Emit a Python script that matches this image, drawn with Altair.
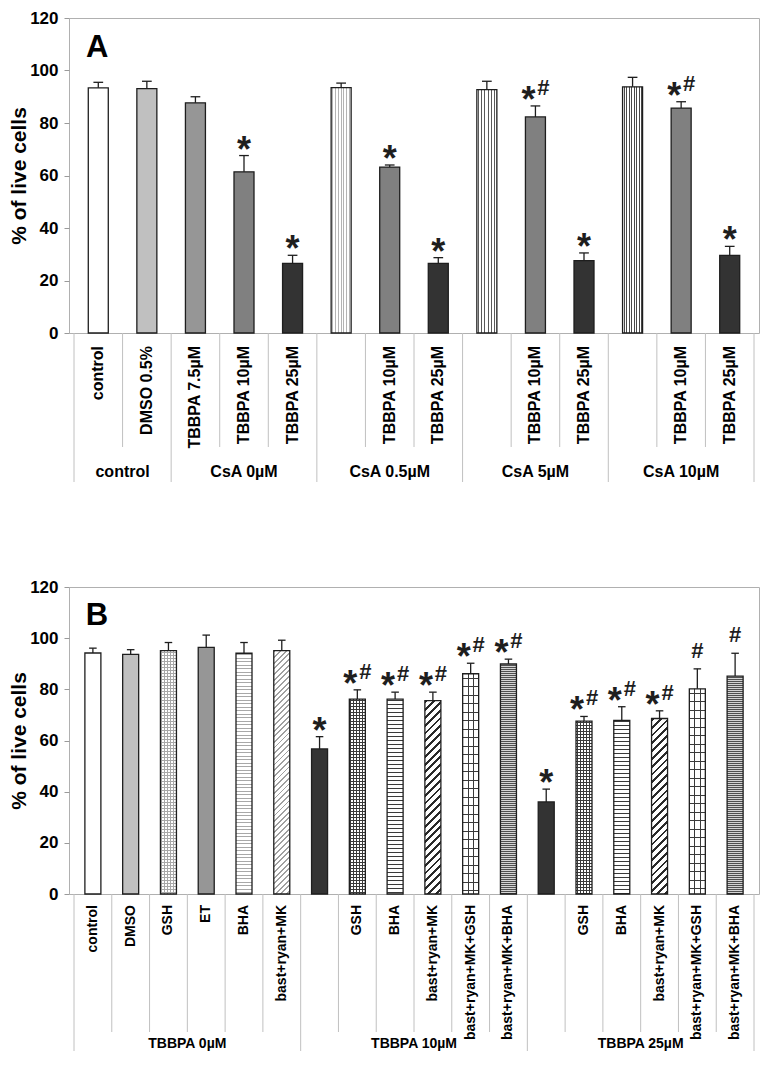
import math
import altair as alt
import pandas as pd

FONT = "Liberation Sans"

# ---------------- Panel A data ----------------
a_group = ["control", "control", "CsA 0µM", "CsA 0µM", "CsA 0µM",
           "CsA 0.5µM", "CsA 0.5µM", "CsA 0.5µM", "CsA 5µM", "CsA 5µM", "CsA 5µM",
           "CsA 10µM", "CsA 10µM", "CsA 10µM"]
a_label = ["control", "DMSO 0.5%", "TBBPA 7.5µM", "TBBPA 10µM", "TBBPA 25µM",
           "", "TBBPA 10µM", "TBBPA 25µM", "", "TBBPA 10µM", "TBBPA 25µM",
           "", "TBBPA 10µM", "TBBPA 25µM"]
a_mean = [93.4, 93.1, 87.7, 61.4, 26.5, 93.5, 63.2, 26.5, 92.7, 82.3, 27.6, 93.8, 85.7, 29.6]
a_err = [2.1, 2.8, 2.3, 6.2, 3.1, 1.7, 0.8, 2.2, 3.2, 4.2, 2.9, 3.6, 2.4, 3.4]
a_sig = ["", "", "", "*", "*", "", "*", "*", "", "*#", "*", "", "*#", "*"]
a_pattern = ["white", "lgray", "mgray", "gray", "dark", "v_light", "gray", "dark",
             "v_mid", "gray", "dark", "v_dense", "gray", "dark"]

# ---------------- Panel B data ----------------
b_group = ["TBBPA 0µM"] * 6 + ["TBBPA 10µM"] * 6 + ["TBBPA 25µM"] * 6
b_label = ["control", "DMSO", "GSH", "ET", "BHA", "bast+ryan+MK",
           "", "GSH", "BHA", "bast+ryan+MK", "bast+ryan+MK+GSH", "bast+ryan+MK+BHA",
           "", "GSH", "BHA", "bast+ryan+MK", "bast+ryan+MK+GSH", "bast+ryan+MK+BHA"]
b_mean = [94.2, 93.7, 95.1, 96.4, 94.1, 95.1, 56.7, 76.2, 76.2, 75.6, 86.1, 89.9,
          36.0, 67.6, 67.9, 68.6, 80.2, 85.2]
b_err = [1.9, 1.8, 3.2, 4.8, 4.2, 4.1, 4.8, 3.6, 2.7, 3.3, 4.1, 1.9,
         5.0, 1.8, 5.3, 3.0, 7.8, 8.9]
b_sig = ["", "", "", "", "", "", "*", "*#", "*#", "*#", "*#", "*#",
         "*", "*#", "*#", "*#", "#", "#"]
b_pattern = ["white", "lgray", "grid_light", "mgray", "h_light", "diag_light",
             "dark", "grid_dark", "h_dark", "diag_dark", "grid_large", "h_dense",
             "dark", "grid_dark", "h_dark", "diag_dark", "grid_large", "h_dense"]

y_ticks = [0, 20, 40, 60, 80, 100, 120]
Y_MAX = 120
Y_TITLE = "% of live cells"

CLEAR = "rgba(255,255,255,0)"


def stripe_stops(length, period, thick, color, bg, phase=0.0):
    stops = [{"offset": 0, "color": bg}]
    p = phase
    while p < length:
        a = round(max(p / length, 0), 5)
        b = round(min((p + thick) / length, 1), 5)
        stops += [{"offset": a, "color": bg}, {"offset": a, "color": color},
                  {"offset": b, "color": color}, {"offset": b, "color": bg}]
        p += period
    stops.append({"offset": 1, "color": bg})
    return stops


def vert(w, period, thick, color, bg="white", phase=1.0):
    return {"gradient": "linear", "x1": 0, "y1": 0, "x2": 1, "y2": 0,
            "stops": stripe_stops(w, period, thick, color, bg, phase)}


def horiz(h, period, thick, color, bg="white", phase=1.0):
    return {"gradient": "linear", "x1": 0, "y1": 0, "x2": 0, "y2": 1,
            "stops": stripe_stops(h, period, thick, color, bg, phase)}


def diag(w, h, period, thick, color, bg="white"):
    k = (w + h) / (w * w + h * h)
    s = math.sqrt(2)
    return {"gradient": "linear", "x1": 0, "y1": 0, "x2": round(k * w, 6), "y2": round(k * h, 6),
            "stops": stripe_stops(w + h, period * s, thick * s, color, bg, 0.5)}


def fills(name, w, h):
    if name == "white":
        return ["white"]
    if name == "lgray":
        return ["#c0c0c0"]
    if name == "mgray":
        return ["#969696"]
    if name == "gray":
        return ["#808080"]
    if name == "dark":
        return ["#333333"]
    if name == "v_light":
        return [vert(w, 2.8, 1, "#b4b4b4")]
    if name == "v_mid":
        return [vert(w, 3.3, 1, "#5a5a5a")]
    if name == "v_dense":
        return [vert(w, 2.5, 1, "#4a4a4a")]
    if name == "grid_light":
        return [vert(w, 3, 1, "#a8a8a8"), horiz(h, 3, 1, "#a8a8a8", CLEAR)]
    if name == "grid_dark":
        return [vert(w, 3, 1, "#3a3a3a"), horiz(h, 3, 1, "#3a3a3a", CLEAR)]
    if name == "grid_large":
        return [vert(w, 5.33, 1, "#3a3a3a", "white", 5.0), horiz(h, 8.5, 1, "#3a3a3a", CLEAR, 4.0)]
    if name == "h_light":
        return [horiz(h, 3.5, 1, "#a8a8a8")]
    if name == "h_dark":
        return [horiz(h, 4, 1, "#3a3a3a")]
    if name == "h_dense":
        return [horiz(h, 2, 1, "#505050", "#d4d4d4")]
    if name == "diag_light":
        return [diag(w, h, 4, 1.3, "#a0a0a0")]
    if name == "diag_dark":
        return [diag(w, h, 5.5, 2.0, "#2a2a2a")]
    return ["white"]


def panel(groups, labels, means, errs, sigs, patterns, W, H, bw,
          lab_font, lab_off, inner_len, group_len, group_off, group_font,
          letter, letter_y, letter_dx):
    n = len(labels)
    pxu = H / Y_MAX
    xs = alt.Scale(domain=[0, n], nice=False, zero=False)
    ys = alt.Scale(domain=[0, Y_MAX], nice=False)
    yaxis = alt.Axis(values=y_ticks, title=Y_TITLE, titlePadding=0, labelPadding=6, tickSize=5)
    df = pd.DataFrame({
        "idx": list(range(n)),
        "pos": [i + 0.5 for i in range(n)],
        "mean": means,
        "top": [m + e for m, e in zip(means, errs)],
        "lo": [i + 0.4 for i in range(n)],
        "hi": [i + 0.6 for i in range(n)],
        "label": labels,
        "sig": sigs,
    })
    bnds, longs = [], []
    for i in range(n + 1):
        is_long = i == 0 or i == n or groups[i] != groups[i - 1]
        bnds.append(i)
        longs.append(is_long)
    bdf = pd.DataFrame({"bpos": bnds, "long": longs})
    gnames, gstart, gend = [], [], []
    for i, g in enumerate(groups):
        if not gnames or gnames[-1] != g:
            gnames.append(g)
            gstart.append(i)
            gend.append(i + 1)
        else:
            gend[-1] = i + 1
    gdf = pd.DataFrame({"group": gnames, "gpos": [(s + e) / 2 for s, e in zip(gstart, gend)]})

    def Y(field):
        return alt.Y(field, scale=ys, axis=yaxis)

    X = alt.X("pos:Q", scale=xs, axis=None)
    layers = []
    for i in range(n):
        for f in fills(patterns[i], bw, means[i] * pxu):
            layers.append(
                alt.Chart(df).transform_filter(f"datum.idx == {i}")
                .mark_bar(size=bw, fill=f, strokeWidth=0)
                .encode(x=X, y=Y("mean:Q"))
            )
    layers.append(
        alt.Chart(df).mark_bar(size=bw, fill="transparent", stroke="#1e1e1e", strokeWidth=1.3)
        .encode(x=X, y=Y("mean:Q"))
    )
    layers.append(
        alt.Chart(df).mark_rule(color="#1e1e1e", strokeWidth=1.3)
        .encode(x=X, y=Y("mean:Q"), y2="top:Q")
    )
    layers.append(
        alt.Chart(df).mark_rule(color="#1e1e1e", strokeWidth=1.3)
        .encode(x=alt.X("lo:Q", scale=xs, axis=None), x2="hi:Q", y=Y("top:Q"))
    )
    star_kw = dict(fontSize=36, fontWeight="bold", font=FONT, baseline="alphabetic",
                   align="center", color="#1e1e1e")
    hash_kw = dict(fontSize=22, fontWeight="bold", font=FONT, baseline="alphabetic",
                   align="center", color="#1e1e1e")
    layers.append(alt.Chart(df).transform_filter("datum.sig == '*'")
                  .mark_text(text="*", dy=6, **star_kw).encode(x=X, y=Y("top:Q")))
    layers.append(alt.Chart(df).transform_filter("datum.sig == '*#'")
                  .mark_text(text="*", dy=6, dx=-7, **star_kw).encode(x=X, y=Y("top:Q")))
    layers.append(alt.Chart(df).transform_filter("datum.sig == '*#'")
                  .mark_text(text="#", dy=-11, dx=8, **hash_kw).encode(x=X, y=Y("top:Q")))
    layers.append(alt.Chart(df).transform_filter("datum.sig == '#'")
                  .mark_text(text="#", dy=-11, **hash_kw).encode(x=X, y=Y("top:Q")))
    layers.append(
        alt.Chart(df).mark_text(angle=270, align="right", baseline="middle", fontSize=lab_font,
                                fontWeight="bold", font=FONT, color="black")
        .encode(x=X, y=alt.value(H + lab_off), text="label:N")
    )
    BX = alt.X("bpos:Q", scale=xs, axis=None)
    layers.append(
        alt.Chart(bdf).transform_filter("!datum.long")
        .mark_rule(color="#c0c0c0", strokeWidth=1)
        .encode(x=BX, y=alt.value(H), y2=alt.value(H + inner_len))
    )
    layers.append(
        alt.Chart(bdf).transform_filter("datum.long")
        .mark_rule(color="#c0c0c0", strokeWidth=1)
        .encode(x=BX, y=alt.value(H), y2=alt.value(H + group_len))
    )
    layers.append(
        alt.Chart(gdf).mark_text(align="center", baseline="middle", fontSize=group_font,
                                 fontWeight="bold", font=FONT, color="black")
        .encode(x=alt.X("gpos:Q", scale=xs, axis=None), y=alt.value(H + group_off), text="group:N")
    )
    ldf = pd.DataFrame({"pos": [0.5], "ly": [letter_y]})
    layers.append(
        alt.Chart(ldf).mark_text(text=letter, fontSize=31, fontWeight="bold", font=FONT,
                                 align="center", baseline="alphabetic", dx=letter_dx, color="black")
        .encode(x=X, y=Y("ly:Q"))
    )
    return alt.layer(*layers).properties(width=W, height=H)


chart_a = panel(a_group, a_label, a_mean, a_err, a_sig, a_pattern, 690, 315, 20,
                16, 13, 114, 149, 139, 16, "A", 105.0, -1)
chart_b = panel(b_group, b_label, b_mean, b_err, b_sig, b_pattern, 690, 307, 16,
                14, 11, 138, 157, 150, 14, "B", 105.1, 4)

chart = (
    alt.vconcat(chart_a, chart_b, spacing=94)
    .properties(padding={"left": 0, "top": 0, "right": 0, "bottom": 0}, background="white")
    .configure_view(stroke="#b0b0b0", strokeWidth=1)
    .configure_axis(labelFont=FONT, labelFontWeight="bold", labelFontSize=17, labelColor="black",
                    titleFont=FONT, titleFontWeight="bold", titleFontSize=21, titleColor="black",
                    domain=False, grid=False, tickColor="#9a9a9a", tickWidth=1)
)

chart.save("out.html", embed_options={"renderer": "svg", "actions": False})
